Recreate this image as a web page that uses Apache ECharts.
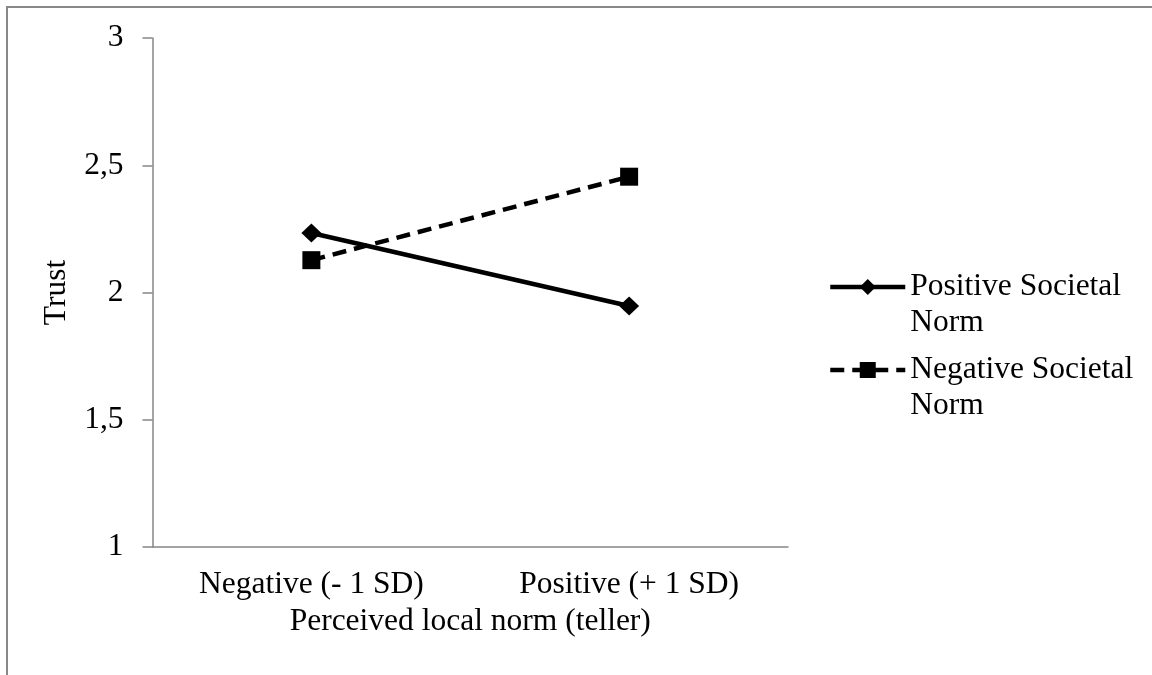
<!DOCTYPE html>
<html>
<head>
<meta charset="utf-8">
<script src="https://cdn.jsdelivr.net/npm/echarts@6/dist/echarts.min.js"></script>
<style>
html,body{margin:0;padding:0;background:#fff;}
#chart{width:1152px;height:675px;}
</style>
</head>
<body>
<div id="chart"></div>
<script>
const categories = ['Negative (- 1 SD)', 'Positive (+ 1 SD)'];
const positiveSocietalNorm = [2.234, 1.947];
const negativeSocietalNorm = [2.127, 2.455];
const seriesNames = ['Positive Societal Norm', 'Negative Societal Norm'];
const yTickLabels = {1: '1', 1.5: '1,5', 2: '2', 2.5: '2,5', 3: '3'};
const xAxisTitle = 'Perceived local norm (teller)';
const yAxisTitle = 'Trust';

const FONT = '"Liberation Serif", "Times New Roman", serif';
const AXIS_COLOR = '#868686';
const FS = 31.5;

const chart = echarts.init(document.getElementById('chart'), null, {renderer: 'canvas'});

function legendFor(name, top) {
  return {
    data: [name],
    left: 828,
    top: top,
    orient: 'vertical',
    padding: 0,
    itemWidth: 75,
    itemHeight: 20,
    selectedMode: false,
    lineStyle: {width: 4.5},
    formatter: n => ' \n' + n.replace(' Norm', '\nNorm'),
    textStyle: {
      fontFamily: FONT, fontSize: FS, color: '#000', lineHeight: 36
    }
  };
}

chart.setOption({
  animation: false,
  backgroundColor: '#fff',
  graphic: [{
    type: 'rect',
    shape: {x: 7, y: 7, width: 1200, height: 700},
    style: {fill: 'none', stroke: '#888', lineWidth: 2},
    silent: true
  }],
  grid: {left: 152.5, right: 364, top: 38, bottom: 128, containLabel: false},
  legend: [legendFor(seriesNames[0], 233), legendFor(seriesNames[1], 316)],
  xAxis: {
    type: 'category',
    data: categories,
    boundaryGap: true,
    name: xAxisTitle,
    nameLocation: 'middle',
    nameGap: 50,
    nameTextStyle: {fontFamily: FONT, fontSize: FS, color: '#000'},
    axisLine: {lineStyle: {color: AXIS_COLOR, width: 1.5}},
    axisTick: {show: false},
    axisLabel: {fontFamily: FONT, fontSize: FS, color: '#000', margin: 22},
    splitLine: {show: false}
  },
  yAxis: {
    type: 'value',
    min: 1, max: 3, interval: 0.5,
    name: yAxisTitle,
    nameLocation: 'middle',
    nameGap: 74,
    nameRotate: 90,
    nameTextStyle: {fontFamily: FONT, fontSize: FS, color: '#000'},
    axisLine: {show: true, lineStyle: {color: AXIS_COLOR, width: 1.5}},
    axisTick: {show: true, length: 10, inside: false, lineStyle: {color: AXIS_COLOR, width: 1.5}},
    axisLabel: {fontFamily: FONT, fontSize: FS, color: '#000', margin: 29,
      formatter: v => yTickLabels[v] !== undefined ? yTickLabels[v] : String(v).replace('.', ',')},
    splitLine: {show: false}
  },
  series: [{
    name: seriesNames[0],
    type: 'line',
    data: positiveSocietalNorm,
    symbol: 'diamond',
    symbolSize: [20, 19],
    itemStyle: {color: '#000'},
    lineStyle: {color: '#000', width: 4.5, type: 'solid'},
    z: 3
  }, {
    name: seriesNames[1],
    type: 'line',
    data: negativeSocietalNorm,
    symbol: 'rect',
    symbolSize: 18,
    itemStyle: {color: '#000'},
    lineStyle: {color: '#000', width: 4.5, type: [14, 8]},
    z: 2
  }]
});
</script>
</body>
</html>
